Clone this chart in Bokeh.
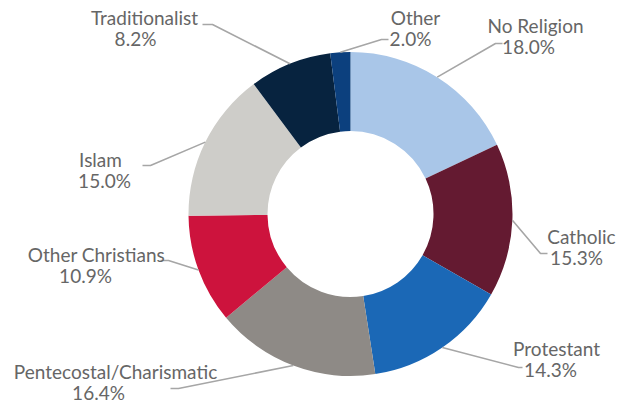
import math
from bokeh.plotting import figure
from bokeh.models import Range1d, ColumnDataSource
from bokeh.core.properties import value
from bokeh.embed import file_html
from bokeh.resources import INLINE

# ---- data ----
categories = ["No Religion", "Catholic", "Protestant", "Pentecostal/Charismatic",
              "Other Christians", "Islam", "Traditionalist", "Other"]
shares = [18.0, 15.3, 14.3, 16.4, 10.9, 15.0, 8.2, 2.0]
colors = ["#a9c6e8", "#641a31", "#1b68b6", "#8e8a86",
          "#cd133d", "#cecdc9", "#07233f", "#0c407e"]
pct_labels = [f"{v:.1f}%" for v in shares]

# ---- layout (reference pixel frame, y measured from the top) ----
W_REF, H_REF = 619, 403
CX, CY = 350, 213.5
R_OUT, R_IN = 162, 83
# name centre x, percent centre x, name baseline y
name_x = [535, 581, 556, 115, 96, 100, 144, 415]
pct_x = [528, 576, 550, 98, 85, 104, 135, 410]
name_base = [25, 236, 348, 371, 254, 159, 17, 17]
LINE_GAP = 20.5
# leader: label-side x, elbow x, leader y
lead_lx = [502, 547, 522, 170, 160, 142, 202, 388]
lead_ex = [495, 540, 518, 178, 168, 150, 212, 381]
lead_y = [43, 253, 367, 388, 260, 165, 24, 39]

total = sum(shares)
starts, ends, mids = [], [], []
cum = 0.0
for v in shares:
    a0 = cum / total
    cum += v
    a1 = cum / total
    starts.append(math.pi / 2 - 2 * math.pi * a0)
    ends.append(math.pi / 2 - 2 * math.pi * a1)
    mids.append(math.pi / 2 - 2 * math.pi * (a0 + a1) / 2)

def fy(py):
    return H_REF - py

wedges = ColumnDataSource(dict(start=starts, end=ends, color=colors, cat=categories))

xs, ys = [], []
for i in range(len(shares)):
    px = CX + R_OUT * math.cos(mids[i])
    py_ = fy(CY) + R_OUT * math.sin(mids[i])
    xs.append([lead_lx[i], lead_ex[i], px])
    ys.append([fy(lead_y[i]), fy(lead_y[i]), py_])

W, H = 619, 403

p = figure(width=W, height=H, output_backend="svg", toolbar_location=None,
           x_range=Range1d(0, W_REF), y_range=Range1d(0, H_REF),
           min_border=0)
p.axis.visible = False
p.grid.visible = False
p.outline_line_color = None
p.background_fill_color = "white"
p.border_fill_color = "white"

p.annular_wedge(x=CX, y=fy(CY), inner_radius=R_IN, outer_radius=R_OUT,
                start_angle="start", end_angle="end", direction="clock",
                fill_color="color", line_color=None, source=wedges)

p.multi_line(xs=xs, ys=ys, line_color="#a6a6a6", line_width=1.6)

name_src = ColumnDataSource(dict(x=name_x, y=[fy(b) for b in name_base], t=categories))
pct_src = ColumnDataSource(dict(x=pct_x, y=[fy(b + LINE_GAP) for b in name_base], t=pct_labels))
for src in (name_src, pct_src):
    p.text(x="x", y="y", text="t", source=src, text_align="center",
           text_baseline="alphabetic", text_font=value("Lato"),
           text_font_size="19px", text_color="#666666")

open("out.html", "w").write(file_html(p, INLINE))
